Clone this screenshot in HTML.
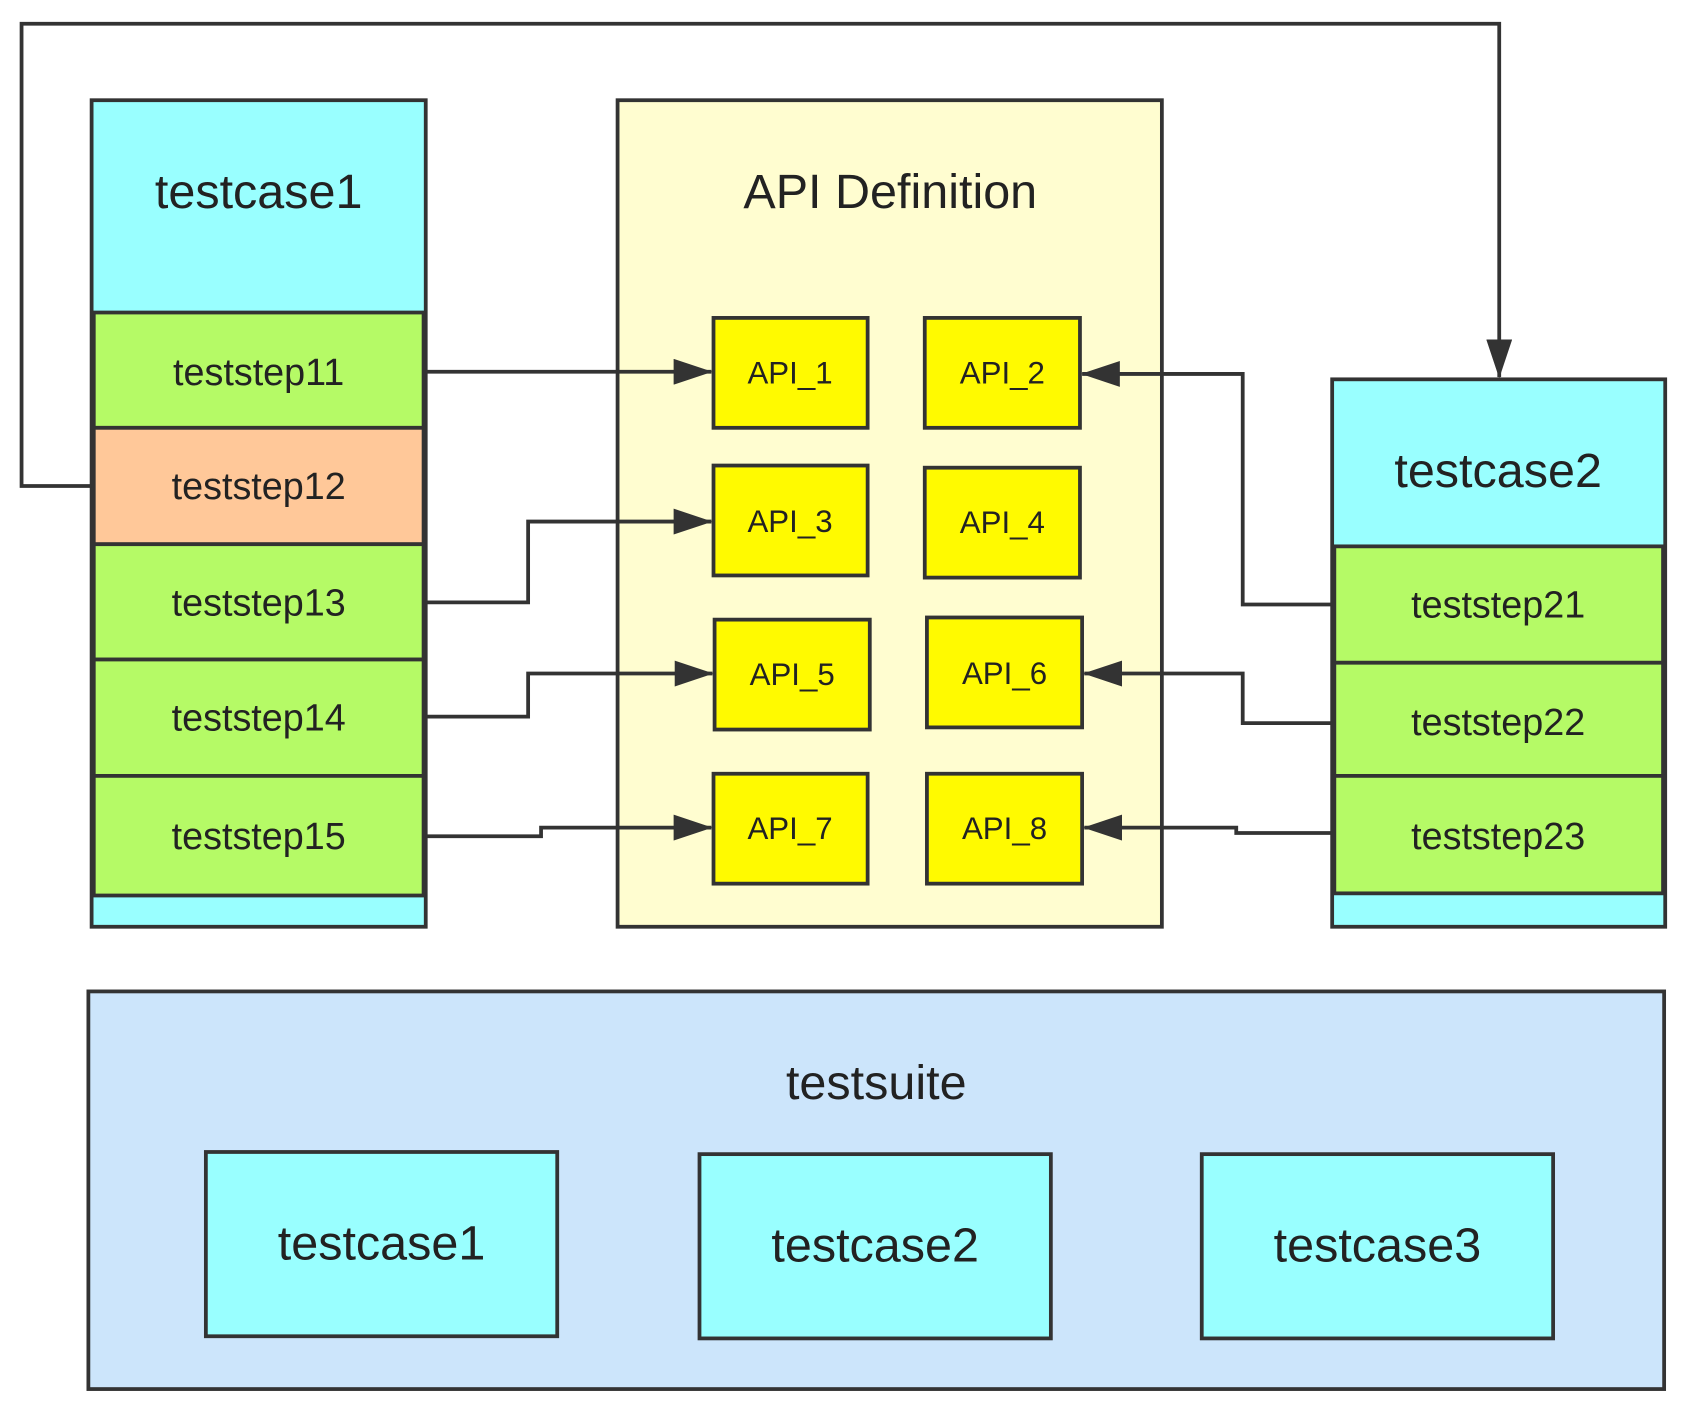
<!DOCTYPE html>
<html><head><meta charset="utf-8"><style>
html,body{margin:0;padding:0;background:#fff;}
svg{display:block;}
text{font-family:"Liberation Sans",sans-serif;fill:#222;text-anchor:middle;dominant-baseline:central;}
</style></head><body>
<svg width="1690" height="1416" viewBox="0 0 1568 1314" preserveAspectRatio="none" xmlns="http://www.w3.org/2000/svg">
<defs>
<marker id="b" viewBox="0 0 36 24" markerWidth="36" markerHeight="24" refX="35" refY="12" orient="auto" markerUnits="userSpaceOnUse"><path d="M0,0 L36,12 L0,24 Z" fill="#333"/></marker></defs>
<g stroke="#333" stroke-width="3.5">
<rect x="85" y="93" width="310" height="767" fill="#99FFFF"/>
<rect x="87" y="290" width="306" height="107" fill="#B5FA66"/>
<rect x="87" y="397" width="306" height="108" fill="#FFC899"/>
<rect x="87" y="505" width="306" height="107" fill="#B5FA66"/>
<rect x="87" y="612" width="306" height="108" fill="#B5FA66"/>
<rect x="87" y="720" width="306" height="111" fill="#B5FA66"/>
<rect x="573" y="93" width="505" height="767" fill="#FFFDD0"/>
<g fill="#FFFA00">
<rect x="662" y="295" width="143" height="102"/>
<rect x="858" y="295" width="144" height="102"/>
<rect x="662" y="432" width="143" height="102"/>
<rect x="858" y="434" width="144" height="102"/>
<rect x="663" y="575" width="144" height="102"/>
<rect x="860" y="573" width="144" height="102"/>
<rect x="662" y="718" width="143" height="102"/>
<rect x="860" y="718" width="144" height="102"/>
</g>
<rect x="1236" y="352" width="309" height="508" fill="#99FFFF"/>
<rect x="1238" y="507" width="305" height="108" fill="#B5FA66"/>
<rect x="1238" y="615" width="305" height="105" fill="#B5FA66"/>
<rect x="1238" y="720" width="305" height="109" fill="#B5FA66"/>
<rect x="82" y="920" width="1462" height="369" fill="#CCE5FB"/>
<rect x="191" y="1069" width="326" height="171" fill="#99FFFF"/>
<rect x="649" y="1071" width="326" height="171" fill="#99FFFF"/>
<rect x="1115" y="1071" width="326" height="171" fill="#99FFFF"/>
</g>
<g stroke="#333" stroke-width="3.5" fill="none">
<polyline points="85,451 20,451 20,22 1391,22 1391,350" marker-end="url(#b)"/>
<polyline points="395,345 660,345" marker-end="url(#b)"/>
<polyline points="395,559 490,559 490,484 660,484" marker-end="url(#b)"/>
<polyline points="395,665 490,665 490,625 661,625" marker-end="url(#b)"/>
<polyline points="395,776 502,776 502,768 660,768" marker-end="url(#b)"/>
<polyline points="1236,561 1153,561 1153,347 1004,347" marker-end="url(#b)"/>
<polyline points="1236,671 1153,671 1153,625 1006,625" marker-end="url(#b)"/>
<polyline points="1236,773 1147,773 1147,768 1006,768" marker-end="url(#b)"/>
</g>
<g font-size="45">
<text x="240" y="178">testcase1</text>
<text x="826" y="178">API Definition</text>
<text x="1390" y="437">testcase2</text>
<text x="813" y="1005">testsuite</text>
<text x="354" y="1154">testcase1</text>
<text x="812" y="1156">testcase2</text>
<text x="1278" y="1156">testcase3</text>
</g>
<g font-size="35">
<text x="240" y="345">teststep11</text>
<text x="240" y="451">teststep12</text>
<text x="240" y="559">teststep13</text>
<text x="240" y="666">teststep14</text>
<text x="240" y="776">teststep15</text>
<text x="1390" y="561">teststep21</text>
<text x="1390" y="670">teststep22</text>
<text x="1390" y="776">teststep23</text>
</g>
<g font-size="29">
<text x="733" y="346">API_1</text>
<text x="930" y="346">API_2</text>
<text x="733" y="484">API_3</text>
<text x="930" y="485">API_4</text>
<text x="735" y="626">API_5</text>
<text x="932" y="625">API_6</text>
<text x="733" y="769">API_7</text>
<text x="932" y="769">API_8</text>
</g>
</svg>
</body></html>
